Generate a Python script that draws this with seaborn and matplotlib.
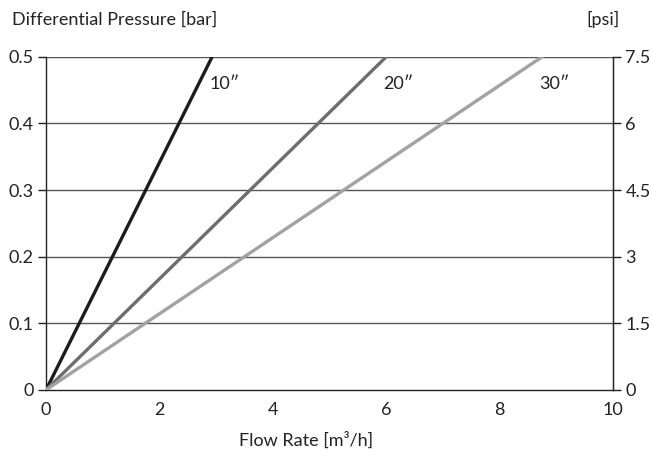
import matplotlib
matplotlib.use("Agg")
import matplotlib.pyplot as plt
import numpy as np
import pandas as pd
import seaborn as sns

# filter sizes and their end points at 0.5 bar
sizes = ['10″', '20″', '30″']
flow_end = [2.93, 6.0, 8.75]
dp_end = [0.5, 0.5, 0.5]
colors = ["#1c1c1c", "#6e6e6e", "#a2a2a2"]

bar_ticks = [0, 0.1, 0.2, 0.3, 0.4, 0.5]
bar_labels = ["0", "0.1", "0.2", "0.3", "0.4", "0.5"]
psi_labels = ["0", "1.5", "3", "4.5", "6", "7.5"]
x_ticks = [0, 2, 4, 6, 8, 10]

rows = []
for s, fx, fy in zip(sizes, flow_end, dp_end):
    rows.append({"size": s, "flow": 0.0, "dp": 0.0})
    rows.append({"size": s, "flow": fx, "dp": fy})
data = pd.DataFrame(rows)

sns.set_style("white")
plt.rcParams['font.family'] = ['Lato', 'DejaVu Sans']

fig = plt.figure(figsize=(6.52, 4.62), dpi=100)
ax = fig.add_axes([0.0706, 0.156, 0.8695, 0.721])

sns.lineplot(data=data, x="flow", y="dp", hue="size", palette=colors,
             linewidth=2.4, legend=False, ax=ax, zorder=3)
ax.set_xlabel("")
ax.set_ylabel("")

ax.set_xlim(0, 10)
ax.set_ylim(0, 0.5)
ax.set_xticks(x_ticks)
ax.set_xticklabels([str(t) for t in x_ticks])
ax.set_yticks(bar_ticks)
ax.set_yticklabels(bar_labels)
for t in bar_ticks[1:]:
    ax.axhline(t, color="#555555", lw=1.0, zorder=1)

for side in ["left", "bottom", "right"]:
    ax.spines[side].set_color("#222222")
    ax.spines[side].set_linewidth(1.0)
ax.spines["top"].set_visible(False)
ax.tick_params(axis="both", direction="out", length=6, width=1.0,
               color="#222222", labelsize=13, labelcolor="#222222", pad=3)

ax2 = ax.twinx()
ax2.set_ylim(0, 0.5)
ax2.set_yticks(bar_ticks)
ax2.set_yticklabels(psi_labels)
ax2.tick_params(axis="y", direction="out", length=6, width=1.0,
                color="#222222", labelsize=13, labelcolor="#222222", pad=3)
for side in ["left", "bottom", "top"]:
    ax2.spines[side].set_visible(False)
ax2.spines["right"].set_color("#222222")

for s, fx, fy in zip(sizes, flow_end, dp_end):
    ax.annotate(s, xy=(fx, fy), xytext=(-2, -23), textcoords="offset points",
                fontsize=13, color="#222222")

fig.text(0.018, 0.958, "Differential Pressure [bar]", fontsize=13, color="#222222",
         va="center", ha="left")
fig.text(0.951, 0.958, "[psi]", fontsize=13, color="#222222", va="center", ha="right")
fig.text(0.47, 0.048, "Flow Rate [m³/h]", fontsize=13, color="#222222",
         va="center", ha="center")

fig.savefig("out.png", dpi=100)
